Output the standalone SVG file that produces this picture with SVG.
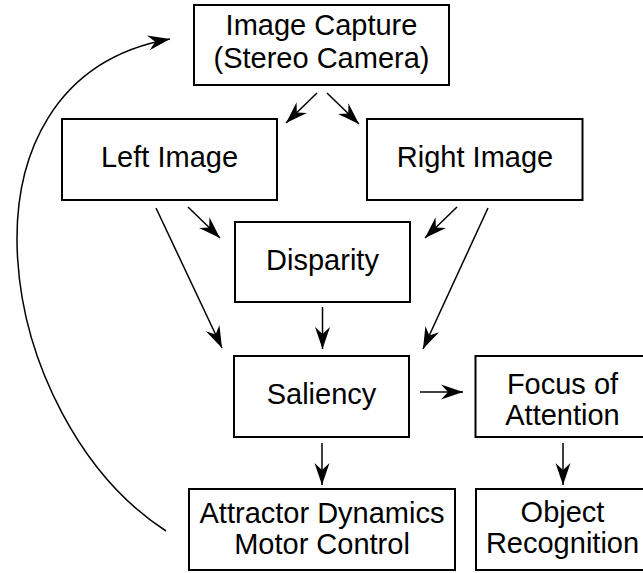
<svg xmlns="http://www.w3.org/2000/svg" width="643" height="573" viewBox="0 0 643 573">
<style>
.box{fill:#fff;stroke:#000;stroke-width:2}
.lbl{font-family:"Liberation Sans",Arial,Helvetica,sans-serif;font-size:29px;fill:#000;text-anchor:middle}
.edge{fill:none;stroke:#000;stroke-width:1.5;marker-end:url(#ah)}
</style>
<defs>
<marker id="ah" markerUnits="userSpaceOnUse" viewBox="-23 -9 24 18" markerWidth="24" markerHeight="18" refX="0" refY="0" orient="auto">
<path d="M0,0 L-22,-7.5 L-15,0 L-22,7.5 Z" fill="#000"/>
</marker>
</defs>
<rect width="643" height="573" fill="#fff"/>
<g id="connectors">
<line class="edge" x1="317" y1="93" x2="286" y2="123"/>
<line class="edge" x1="327" y1="93" x2="359" y2="124"/>
<line class="edge" x1="188" y1="207" x2="220" y2="238"/>
<line class="edge" x1="156" y1="208" x2="222" y2="348"/>
<line class="edge" x1="457" y1="207" x2="425" y2="238"/>
<line class="edge" x1="488" y1="208" x2="423" y2="349"/>
<line class="edge" x1="322.5" y1="307" x2="322.5" y2="349"/>
<line class="edge" x1="420" y1="392" x2="463" y2="392"/>
<line class="edge" x1="322" y1="443" x2="322" y2="485"/>
<line class="edge" x1="563" y1="443" x2="563" y2="485"/>
<path class="edge" d="M166,531 C-5,420 -60,80 170,39"/>
</g>
<g id="image-capture">
<rect class="box" x="194" y="5" width="255" height="80"/>
<text class="lbl" x="321.5" y="34.5">Image Capture</text>
<text class="lbl" x="321.5" y="67.5">(Stereo Camera)</text>
</g>
<g id="left-image">
<rect class="box" x="62" y="119" width="215" height="81"/>
<text class="lbl" x="169.5" y="167">Left Image</text>
</g>
<g id="right-image">
<rect class="box" x="367" y="119" width="215.5" height="81"/>
<text class="lbl" x="475" y="167">Right Image</text>
</g>
<g id="disparity">
<rect class="box" x="235" y="222" width="175" height="80"/>
<text class="lbl" x="322.5" y="269.5">Disparity</text>
</g>
<g id="saliency">
<rect class="box" x="234" y="356" width="175" height="81"/>
<text class="lbl" x="321.5" y="404">Saliency</text>
</g>
<g id="focus-of-attention">
<rect class="box" x="475.5" y="356" width="174" height="81"/>
<text class="lbl" x="562.5" y="393.5">Focus of</text>
<text class="lbl" x="562.5" y="424.5">Attention</text>
</g>
<g id="attractor-dynamics">
<rect class="box" x="189" y="489" width="266" height="81"/>
<text class="lbl" x="322" y="522.5">Attractor Dynamics</text>
<text class="lbl" x="322" y="554">Motor Control</text>
</g>
<g id="object-recognition">
<rect class="box" x="476" y="489" width="173" height="81"/>
<text class="lbl" x="562.5" y="522">Object</text>
<text class="lbl" x="562.5" y="553">Recognition</text>
</g>
</svg>
